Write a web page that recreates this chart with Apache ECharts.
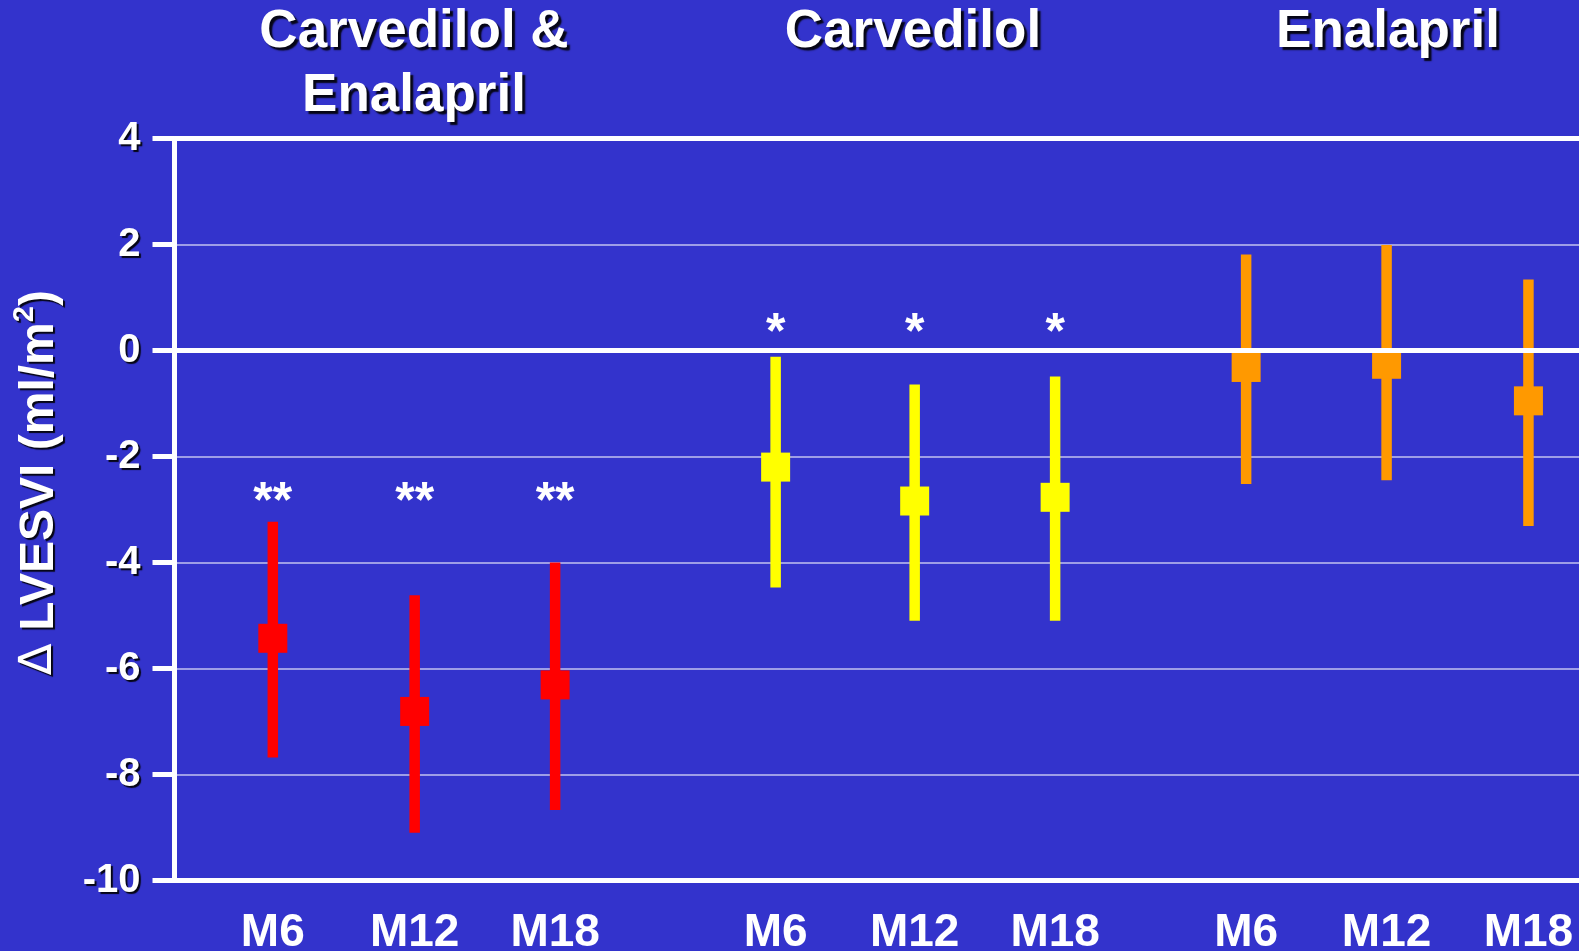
<!DOCTYPE html>
<html>
<head>
<meta charset="utf-8">
<script src="https://cdn.jsdelivr.net/npm/echarts@6/dist/echarts.min.js"></script>
<style>
html, body { margin: 0; padding: 0; background: #3333cc; }
#chart { width: 1579px; height: 951px; }
</style>
</head>
<body>
<div id="chart"></div>
<script>
// treatment groups and visits
var groups = ['Carvedilol &\nEnalapril', 'Carvedilol', 'Enalapril'];
var visits = ['M6', 'M12', 'M18'];
var groupColors = ['#ff0000', '#ffff00', '#ff9900'];
// where each visit sits along the (hidden) x scale
var xPos = [[0.70, 1.71, 2.71], [4.28, 5.27, 6.27], [7.63, 8.63, 9.64]];
// change in LVESVI (ml/m2): mean and 95% CI
var means = [[-5.43, -6.81, -6.31], [-2.20, -2.84, -2.77], [-0.32, -0.26, -0.95]];
var lows = [[-7.68, -9.10, -8.67], [-4.47, -5.10, -5.10], [-2.52, -2.45, -3.31]];
var highs = [[-3.23, -4.62, -4.00], [-0.12, -0.64, -0.49], [1.81, 1.99, 1.34]];
// significance marks
var stars = ['**', '*', ''];
var starLevel = [-2.7, 0.5, null];
var titleX = [414, 913, 1388];

var FONT = 'Liberation Sans, Arial, sans-serif';
var shadow = { textShadowColor: 'rgba(0,0,0,0.9)', textShadowOffsetX: 2, textShadowOffsetY: 2, textShadowBlur: 1 };

var allX = [].concat.apply([], xPos);
var allLabels = [];
xPos.forEach(function (g) { g.forEach(function (v, i) { allLabels.push(visits[i]); }); });

var chart = echarts.init(document.getElementById('chart'));

var series = [{
	// heavy white lines at 4 and 0
	type: 'line',
	data: [],
	z: 1,
	markLine: {
		silent: true,
		symbol: 'none',
		label: { show: false },
		lineStyle: { color: '#fff', width: 5, type: 'solid' },
		data: [{ yAxis: 4 }, { yAxis: 0 }]
	}
}];

groups.forEach(function (g, gi) {
	var col = groupColors[gi];
	series.push({
		name: g,
		type: 'custom',
		z: 3,
		data: xPos[gi].map(function (x, i) { return [x, lows[gi][i], highs[gi][i]]; }),
		encode: { x: 0, y: [1, 2] },
		renderItem: function (params, api) {
			var x = api.value(0);
			var top = api.coord([x, api.value(2)]);
			var bot = api.coord([x, api.value(1)]);
			return {
				type: 'rect',
				shape: { x: top[0] - 5.25, y: top[1], width: 10.5, height: bot[1] - top[1] },
				style: { fill: col }
			};
		}
	});
	series.push({
		type: 'scatter',
		z: 4,
		symbol: 'rect',
		symbolSize: 29,
		itemStyle: { color: col, opacity: 1 },
		data: xPos[gi].map(function (x, i) { return [x, means[gi][i]]; })
	});
	if (stars[gi]) {
		series.push({
			type: 'custom',
			z: 5,
			data: xPos[gi].map(function (x) { return [x, starLevel[gi]]; }),
			renderItem: function (params, api) {
				var p = api.coord([api.value(0), api.value(1)]);
				return {
					type: 'text',
					x: p[0],
					y: p[1] + 10,
					style: {
						text: stars[gi],
						fill: '#fff',
						font: 'bold 50px ' + FONT,
						align: 'center',
						verticalAlign: 'middle',
						shadowColor: 'rgba(0,0,0,0.9)',
						shadowBlur: 1,
						shadowOffsetX: 2,
						shadowOffsetY: 2
					}
				};
			}
		});
	}
});

chart.setOption({
	backgroundColor: '#3333cc',
	animation: false,
	textStyle: { fontFamily: FONT },
	title: groups.map(function (g, gi) {
		return {
			text: g,
			left: titleX[gi],
			top: 0,
			textAlign: 'center',
			padding: 0,
			textStyle: {
				color: '#fff', fontSize: 53, fontWeight: 'bold', fontFamily: FONT, lineHeight: 64,
				textShadowColor: 'rgba(0,0,0,0.9)', textShadowBlur: 1.5,
				textShadowOffsetX: 3, textShadowOffsetY: 3
			}
		};
	}),
	grid: { left: 174.5, right: 0, top: 138.5, bottom: 70.5, containLabel: false, outerBoundsMode: 'none' },
	xAxis: {
		type: 'value',
		min: 0,
		max: 10,
		axisLine: { show: true, onZero: false, lineStyle: { color: '#fff', width: 5 } },
		axisTick: { show: false },
		splitLine: { show: false },
		axisLabel: {
			customValues: allX,
			margin: 30,
			color: '#fff',
			fontSize: 46,
			fontWeight: 'bold',
			fontFamily: FONT,
			formatter: function (v) {
				for (var i = 0; i < allX.length; i++) {
					if (Math.abs(allX[i] - v) < 0.005) return allLabels[i];
				}
				return '';
			}
		}
	},
	yAxis: {
		type: 'value',
		min: -10,
		max: 4,
		interval: 2,
		name: '{d|\u2206} {a|LVESVI (ml/m}{s|2}{a|)}',
		nameLocation: 'middle',
		nameRotate: 90,
		nameGap: 106,
		nameTextStyle: {
			padding: [0, 0, 0, 54],
			color: '#fff',
			fontSize: 48,
			fontWeight: 'bold',
			fontFamily: FONT,
			rich: {
				d: Object.assign({ color: '#fff', fontSize: 46, fontWeight: 'normal', fontFamily: 'DejaVu Sans', lineHeight: 58 }, shadow),
				a: Object.assign({ color: '#fff', fontSize: 48, fontWeight: 'bold', fontFamily: FONT, lineHeight: 58 }, shadow),
				s: Object.assign({ color: '#fff', fontSize: 29, fontWeight: 'bold', fontFamily: FONT, verticalAlign: 'top', lineHeight: 58 }, shadow)
			}
		},
		axisLine: { show: true, onZero: false, lineStyle: { color: '#fff', width: 5 } },
		axisTick: { show: true, length: 22, lineStyle: { color: '#fff', width: 5 } },
		splitLine: { show: true, lineStyle: { color: 'rgba(255,255,255,0.7)', width: 1.5 } },
		axisLabel: Object.assign({
			margin: 34,
			color: '#fff',
			fontSize: 40,
			fontWeight: 'bold',
			fontFamily: FONT
		}, shadow)
	},
	series: series
});
</script>
</body>
</html>
